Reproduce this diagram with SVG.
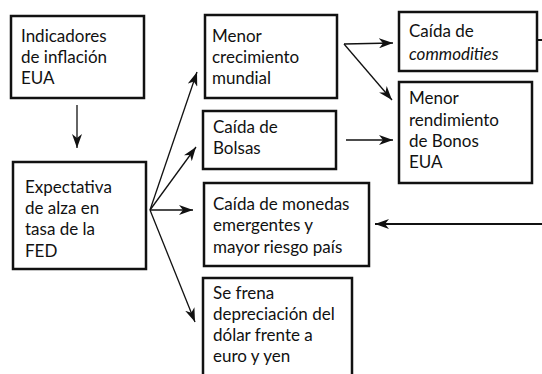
<svg xmlns="http://www.w3.org/2000/svg" width="542" height="374" viewBox="0 0 542 374">
<style>
.box{fill:#fff;stroke:#111;stroke-width:2.5}
.t{font-family:Lato,"Open Sans",sans-serif;font-size:17px;fill:#111}
.c{fill:none;stroke:#111;stroke-width:1.3}
.ck{fill:none;stroke:#111;stroke-width:2}
</style>
<defs>
<marker id="ah" viewBox="0 0 14 10" refX="14" refY="5" markerWidth="14" markerHeight="10" markerUnits="userSpaceOnUse" orient="auto">
<path d="M0,0 L14,5 L0,10 L4,5 Z" fill="#111"/>
</marker>
</defs>
<rect width="542" height="374" fill="#fff"/>
<g id="connectors">
<line class="c" x1="77" y1="105" x2="77" y2="148" marker-end="url(#ah)"/>
<line class="c" x1="150" y1="210" x2="197" y2="72" marker-end="url(#ah)"/>
<line class="c" x1="150" y1="210" x2="196" y2="147" marker-end="url(#ah)"/>
<line class="c" x1="150" y1="210" x2="193" y2="210" marker-end="url(#ah)"/>
<line class="c" x1="150" y1="210" x2="195" y2="322" marker-end="url(#ah)"/>
<line class="c" x1="344" y1="44" x2="393" y2="43" marker-end="url(#ah)"/>
<line class="c" x1="344" y1="44" x2="392" y2="100" marker-end="url(#ah)"/>
<line class="c" x1="346" y1="140" x2="393" y2="140" marker-end="url(#ah)"/>
<line class="ck" x1="537" y1="40" x2="542" y2="40"/>
<line class="ck" x1="542" y1="224" x2="375" y2="224" marker-end="url(#ah)"/>
</g>
<g id="n1">
<rect class="box" x="11" y="16" width="133" height="82"/>
<text class="t" x="21" y="42">Indicadores</text>
<text class="t" x="21" y="63">de inflación</text>
<text class="t" x="21" y="84">EUA</text>
</g>
<g id="n2">
<rect class="box" x="13" y="162" width="133" height="107"/>
<text class="t" x="25" y="193">Expectativa</text>
<text class="t" x="25" y="214">de alza en</text>
<text class="t" x="25" y="235">tasa de la</text>
<text class="t" x="25" y="257">FED</text>
</g>
<g id="n3">
<rect class="box" x="205" y="15" width="132" height="83"/>
<text class="t" x="212" y="42">Menor</text>
<text class="t" x="212" y="63">crecimiento</text>
<text class="t" x="212" y="84">mundial</text>
</g>
<g id="n4">
<rect class="box" x="203" y="111" width="133" height="58"/>
<text class="t" x="213" y="133">Caída de</text>
<text class="t" x="213" y="154">Bolsas</text>
</g>
<g id="n5">
<rect class="box" x="204" y="183" width="165" height="83"/>
<text class="t" x="213" y="210">Caída de monedas</text>
<text class="t" x="213" y="231">emergentes y</text>
<text class="t" x="213" y="253">mayor riesgo país</text>
</g>
<g id="n6">
<rect class="box" x="203" y="278" width="149" height="104"/>
<text class="t" x="213" y="299">Se frena</text>
<text class="t" x="213" y="320">depreciación del</text>
<text class="t" x="213" y="341">dólar frente a</text>
<text class="t" x="213" y="362">euro y yen</text>
</g>
<g id="n7">
<rect class="box" x="399" y="12" width="138" height="59"/>
<text class="t" x="409" y="37">Caída de</text>
<text class="t" x="409" y="60" font-style="italic">commodities</text>
</g>
<g id="n8">
<rect class="box" x="399" y="82" width="133" height="101"/>
<text class="t" x="409" y="104">Menor</text>
<text class="t" x="409" y="126">rendimiento</text>
<text class="t" x="409" y="147">de Bonos</text>
<text class="t" x="409" y="168">EUA</text>
</g>
</svg>
